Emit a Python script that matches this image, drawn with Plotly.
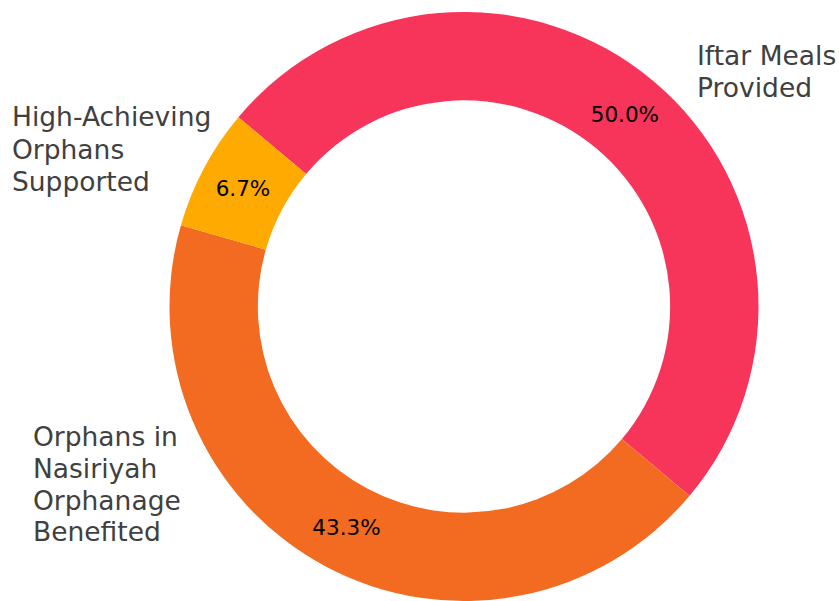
import plotly.graph_objects as go

labels = ["Iftar Meals Provided", "Orphans in Nasiriyah Orphanage Benefited", "High-Achieving Orphans Supported"]
label_lines = [["Iftar Meals", "Provided"],
               ["Orphans in", "Nasiriyah", "Orphanage", "Benefited"],
               ["High-Achieving", "Orphans", "Supported"]]
values = [15, 13, 2]
colors = ["#F7345A", "#F26B21", "#FFAA00"]

W, H = 839, 601
fig = go.Figure()
fig.add_trace(go.Pie(
    labels=labels, values=values, sort=False, direction="clockwise", rotation=-50,
    hole=0.7, marker=dict(colors=colors, line=dict(width=0)),
    textinfo="percent", texttemplate="%{percent:.1%}", textposition="inside",
    insidetextorientation="horizontal",
    textfont=dict(family="DejaVu Sans", size=21.5, color="black"),
    domain=dict(x=[169.5 / W, 758.5 / W], y=[0.0, 589 / H]),
    showlegend=False, hoverinfo="label+percent",
))

# label block placement (pixels from top-left of the figure)
label_pos = [
    dict(x=695, y0=55.0, dy=33.0),
    dict(x=31, y0=436.5, dy=31.8),
    dict(x=10, y0=116.5, dy=32.5),
]
for lines, pos in zip(label_lines, label_pos):
    for i, line in enumerate(lines):
        fig.add_annotation(text=line, x=pos["x"] / W, y=1 - (pos["y0"] + i * pos["dy"]) / H,
                           xref="paper", yref="paper",
                           xanchor="left", yanchor="middle", align="left", showarrow=False,
                           font=dict(family="DejaVu Sans", size=26.5, color="#404040"))

fig.update_layout(width=W, height=H, margin=dict(l=0, r=0, t=0, b=0),
                  paper_bgcolor="white", plot_bgcolor="white")
fig.write_html("out.html", config={"displayModeBar": False},
               post_script="document.body.style.margin='0';document.body.style.overflow='hidden';")
